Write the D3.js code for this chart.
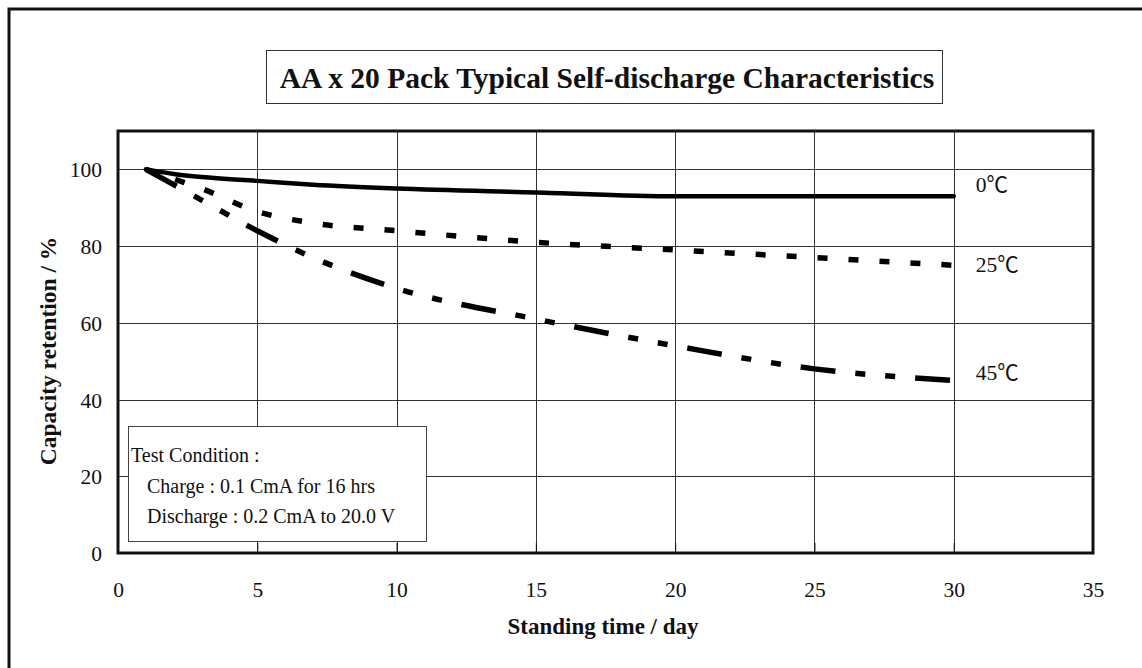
<!DOCTYPE html>
<html>
<head>
<meta charset="utf-8">
<title>AA x 20 Pack Self-discharge</title>
<script src="https://cdn.jsdelivr.net/npm/d3@7"></script>
<style>
  body { margin: 0; background: #fff; }
  svg text { font-family: "Liberation Serif", "Times New Roman", "Noto Sans CJK TC", serif; fill: #111; }
</style>
</head>
<body>
<svg id="chart" width="1142" height="668"></svg>
<script>
// data
var days = [1, 2, 3, 5, 7, 10, 15, 20, 25, 30];
var temp0 = [100, 98.8, 98, 97, 96, 95, 94, 93, 93, 93];
var temp25 = [100, 97.5, 95, 89, 86, 84, 81, 79, 77, 75];
var temp45 = [100, 96, 92, 84, 77, 69, 61, 54, 48, 45];
var seriesNames = ["0℃", "25℃", "45℃"];
var xTicks = [0, 5, 10, 15, 20, 25, 30, 35];
var yTicks = [0, 20, 40, 60, 80, 100];
var conditionLines = ["Test Condition :", "Charge : 0.1 CmA for 16 hrs", "Discharge : 0.2 CmA to 20.0 V"];

var svg = d3.select("#chart");
var plot = { left: 118, top: 131, right: 1093, bottom: 553 };

var x = d3.scaleLinear().domain([0, 35]).range([plot.left, plot.right]);
var y = d3.scaleLinear().domain([0, 110]).range([plot.bottom, plot.top]);

// outer frame (only top/left inside the picture)
svg.append("rect")
  .attr("x", 9).attr("y", 9).attr("width", 1200).attr("height", 700)
  .attr("fill", "none").attr("stroke", "#111").attr("stroke-width", 3);

// title box
svg.append("rect")
  .attr("x", 266.5).attr("y", 50.5).attr("width", 676).attr("height", 53)
  .attr("fill", "#fff").attr("stroke", "#333").attr("stroke-width", 1);
svg.append("text")
  .attr("x", 607).attr("y", 88)
  .attr("text-anchor", "middle")
  .attr("font-size", 29.5).attr("font-weight", "bold")
  .text("AA x 20 Pack Typical Self-discharge Characteristics");

// grid
svg.append("g").selectAll("line")
  .data(xTicks.filter(function (d) { return d > 0 && d < 35; }))
  .enter().append("line")
  .attr("x1", function (d) { return Math.round(x(d)) + 0.5; })
  .attr("x2", function (d) { return Math.round(x(d)) + 0.5; })
  .attr("y1", plot.top).attr("y2", plot.bottom)
  .attr("stroke", "#333").attr("stroke-width", 1);

svg.append("g").selectAll("line")
  .data(yTicks.filter(function (d) { return d > 0; }))
  .enter().append("line")
  .attr("x1", plot.left).attr("x2", plot.right)
  .attr("y1", function (d) { return Math.round(y(d)) + 0.5; })
  .attr("y2", function (d) { return Math.round(y(d)) + 0.5; })
  .attr("stroke", "#333").attr("stroke-width", 1);

// axes (labels only, lines drawn by the plot border)
var xAxis = svg.append("g")
  .attr("transform", "translate(0," + plot.bottom + ")")
  .call(d3.axisBottom(x).tickValues(xTicks).tickSize(10).tickPadding(0).tickFormat(d3.format("d")));
xAxis.select(".domain").remove();
xAxis.selectAll(".tick line").attr("y2", -10).attr("stroke", "#111");
xAxis.selectAll(".tick text").attr("y", 44).attr("dy", 0)
  .attr("font-size", 21.5).attr("fill", "#1a1a1a");

var yAxis = svg.append("g")
  .attr("transform", "translate(" + plot.left + ",0)")
  .call(d3.axisLeft(y).tickValues(yTicks).tickSize(0).tickPadding(16).tickFormat(d3.format("d")));
yAxis.select(".domain").remove();
yAxis.selectAll(".tick text").attr("dy", "0.35em")
  .attr("font-size", 21.5).attr("fill", "#1a1a1a");

// plot border
svg.append("rect")
  .attr("x", plot.left).attr("y", plot.top)
  .attr("width", plot.right - plot.left).attr("height", plot.bottom - plot.top)
  .attr("fill", "none").attr("stroke", "#111").attr("stroke-width", 3);

// curves
var series = [
  { name: seriesNames[0], values: temp0, dash: null, width: 4.5, dy: -4 },
  { name: seriesNames[1], values: temp25, dash: "10,21", width: 5.5, dy: 7 },
  { name: seriesNames[2], values: temp45, dash: "35,20,10,20,10,20", width: 5.5, dy: 0 }
];

var line = d3.line()
  .x(function (d) { return x(d[0]); })
  .y(function (d) { return y(d[1]); })
  .curve(d3.curveMonotoneX);

series.forEach(function (s) {
  var pts = days.map(function (d, i) { return [d, s.values[i]]; });
  svg.append("path")
    .datum(pts)
    .attr("d", line)
    .attr("fill", "none")
    .attr("stroke", "#000")
    .attr("stroke-width", s.width)
    .attr("stroke-dasharray", s.dash)
    .attr("stroke-linecap", s.dash ? "butt" : "round");

  var last = pts[pts.length - 1];
  svg.append("text")
    .attr("x", x(last[0]) + 22)
    .attr("y", y(last[1]) + s.dy)
    .attr("font-size", 21.5)
    .text(s.name);
});

// test condition box
svg.append("rect")
  .attr("x", 128.5).attr("y", 426.5).attr("width", 298).attr("height", 115)
  .attr("fill", "#fff").attr("stroke", "#444").attr("stroke-width", 1);
svg.append("g").selectAll("text")
  .data(conditionLines)
  .enter().append("text")
  .attr("x", function (d, i) { return i === 0 ? 131 : 147; })
  .attr("y", function (d, i) { return 462 + i * 30.5; })
  .attr("font-size", 20)
  .text(function (d) { return d; });

// axis titles
svg.append("text")
  .attr("x", 603).attr("y", 634)
  .attr("text-anchor", "middle")
  .attr("font-size", 23).attr("font-weight", "bold")
  .text("Standing time / day");

svg.append("text")
  .attr("transform", "translate(56,351) rotate(-90)")
  .attr("text-anchor", "middle")
  .attr("font-size", 23.5).attr("font-weight", "bold")
  .text("Capacity retention / %");
</script>
</body>
</html>
